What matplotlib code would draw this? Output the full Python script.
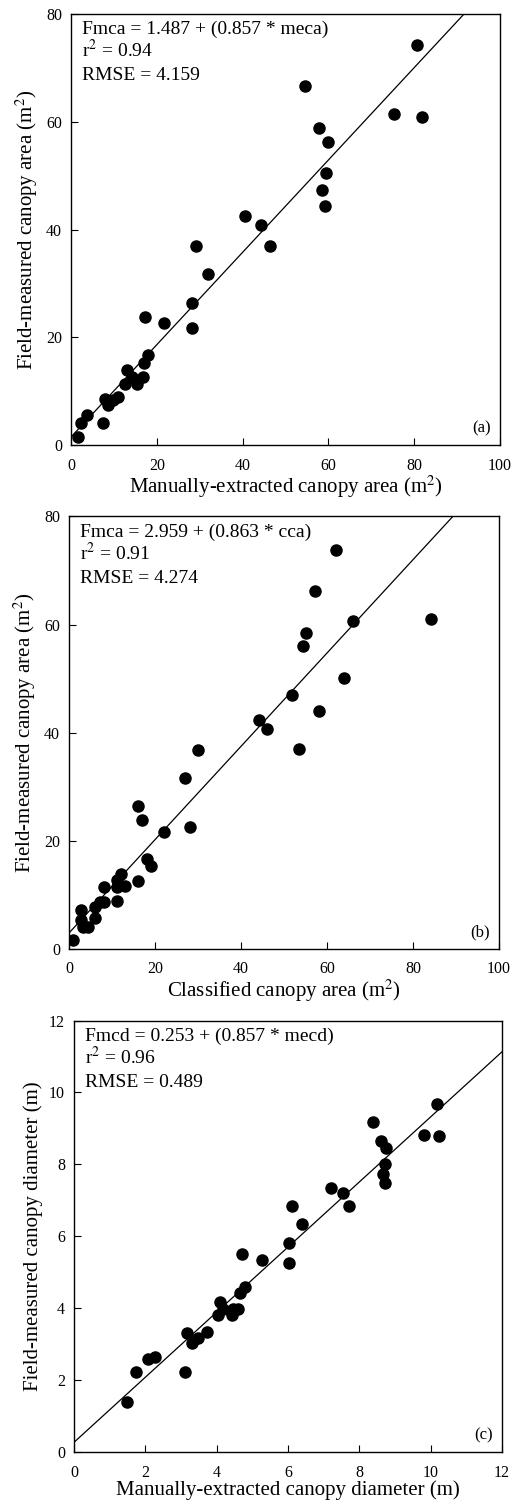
import numpy as np
import matplotlib
matplotlib.use("Agg")
import matplotlib.pyplot as plt

plt.rcParams['font.family'] = ['Liberation Serif', 'DejaVu Serif']
plt.rcParams['mathtext.fontset'] = 'stix'

# panel (a): manually-extracted vs field-measured canopy area
mec_a = [1.7, 2.3, 3.8, 7.4, 7.9, 8.7, 9.8, 11.0, 12.6, 13.1, 14.1, 15.3, 16.7,
         17.0, 18.0, 17.2, 21.6, 28.3, 28.3, 29.1, 31.9, 40.5, 44.2, 46.4,
         54.6, 57.7, 59.9, 59.5, 58.5, 80.7, 75.3, 81.7, 59.3]
fm_a = [1.5, 4.1, 5.6, 4.1, 8.5, 7.4, 8.3, 9.0, 11.4, 14.0, 12.7, 11.4, 12.7,
        15.3, 16.7, 23.8, 22.6, 21.8, 26.4, 36.9, 31.7, 42.5, 40.8, 36.9,
        66.6, 58.9, 56.2, 50.4, 47.3, 74.2, 61.4, 60.9, 44.3]

# panel (b): classified vs field-measured canopy area
cca_b = [1.0, 2.9, 2.9, 3.2, 4.3, 6.0, 6.0, 7.1, 8.1, 8.1, 11.1, 11.1, 11.1,
         12.0, 13.1, 16.0, 16.0, 17.0, 18.1, 19.0, 22.1, 27.0, 28.1, 30.1,
         44.1, 46.1, 62.0, 57.1, 66.0, 84.1, 55.0, 54.5, 64.0, 51.9, 58.1, 53.6]
fm_b = [1.7, 7.3, 5.4, 4.1, 4.1, 5.7, 7.7, 8.7, 8.7, 11.4, 8.9, 11.5, 12.7,
        13.8, 11.7, 12.6, 26.4, 23.8, 16.7, 15.3, 21.6, 31.6, 22.5, 36.8,
        42.4, 40.6, 73.7, 66.2, 60.6, 61.0, 58.5, 56.0, 50.1, 47.0, 44.1, 37.0]

# panel (c): manually-extracted vs field-measured canopy diameter
mecd_c = [1.48, 1.74, 2.08, 2.26, 3.11, 3.16, 3.30, 3.48, 3.72, 4.05, 4.10,
          4.18, 4.42, 4.46, 4.60, 4.65, 4.79, 4.70, 5.26, 6.02, 6.02, 6.39,
          6.10, 7.20, 7.54, 7.71, 8.37, 8.60, 8.76, 8.73, 8.66, 8.71, 9.81,
          10.23, 10.18]
fmd_c = [1.38, 2.23, 2.60, 2.65, 2.23, 3.30, 3.02, 3.16, 3.34, 3.80, 4.18,
         3.99, 3.80, 3.99, 3.99, 4.41, 4.59, 5.50, 5.35, 5.80, 5.25, 6.35,
         6.84, 7.34, 7.20, 6.84, 9.19, 8.65, 8.45, 8.00, 7.74, 7.49, 8.83,
         8.79, 9.69]

# regression lines as drawn (intercept, slope)
fit_a = (1.487, 0.857)
fit_b = (2.959, 0.863)
fit_c = (0.27, 0.905)

panels = [
    dict(x=mec_a, y=fm_a, fit=fit_a, lim=(0, 100, 0, 80), step=(20, 20),
         xlabel='Manually-extracted canopy area (m$^2$)',
         ylabel='Field-measured canopy area (m$^2$)',
         text=['Fmca = 1.487 + (0.857 * meca)', 'r$^2$ = 0.94', 'RMSE = 4.159'],
         tag='(a)', pos=[0.1387, 0.7039, 0.8379, 0.2868]),
    dict(x=cca_b, y=fm_b, fit=fit_b, lim=(0, 100, 0, 80), step=(20, 20),
         xlabel='Classified canopy area (m$^2$)',
         ylabel='Field-measured canopy area (m$^2$)',
         text=['Fmca = 2.959 + (0.863 * cca)', 'r$^2$ = 0.91', 'RMSE = 4.274'],
         tag='(b)', pos=[0.1348, 0.3686, 0.8398, 0.2878]),
    dict(x=mecd_c, y=fmd_c, fit=fit_c, lim=(0, 12, 0, 12), step=(2, 2),
         xlabel='Manually-extracted canopy diameter (m)',
         ylabel='Field-measured canopy diameter (m)',
         text=['Fmcd = 0.253 + (0.857 * mecd)', 'r$^2$ = 0.96', 'RMSE = 0.489'],
         tag='(c)', pos=[0.1445, 0.0339, 0.8359, 0.2871]),
]

fig = plt.figure(figsize=(5.12, 15.03), dpi=100)

for p in panels:
    ax = fig.add_axes(p['pos'])
    x0, x1, y0, y1 = p['lim']
    b0, b1 = p['fit']
    # line from x=0 up to where it leaves the box
    xe = min(x1, (y1 - b0) / b1)
    xl = np.array([0, xe])
    ax.plot(xl, b0 + b1 * xl, color='black', lw=0.9, zorder=2)
    ax.plot(p['x'], p['y'], 'o', color='black', markersize=8, zorder=3)
    ax.set_xlim(x0, x1)
    ax.set_ylim(y0, y1)
    ax.set_xticks(np.arange(x0, x1 + 0.001, p['step'][0]))
    ax.set_yticks(np.arange(y0, y1 + 0.001, p['step'][1]))
    ax.tick_params(direction='in', length=5, width=0.8, labelsize=11.5)
    ax.tick_params(axis='x', pad=9)
    ax.tick_params(axis='y', pad=6.5)
    for s in ax.spines.values():
        s.set_linewidth(1.0)
    ax.set_xlabel(p['xlabel'], fontsize=15, labelpad=0)
    ax.set_ylabel(p['ylabel'], fontsize=15, labelpad=4)
    for i, t in enumerate(p['text']):
        ax.text(0.025, 0.9536 - i * 0.0535, t, transform=ax.transAxes,
                fontsize=14, va='baseline', ha='left')
    ax.text(0.979, 0.021, p['tag'], transform=ax.transAxes, fontsize=12,
            va='bottom', ha='right')

fig.savefig('out.png', dpi=100)
